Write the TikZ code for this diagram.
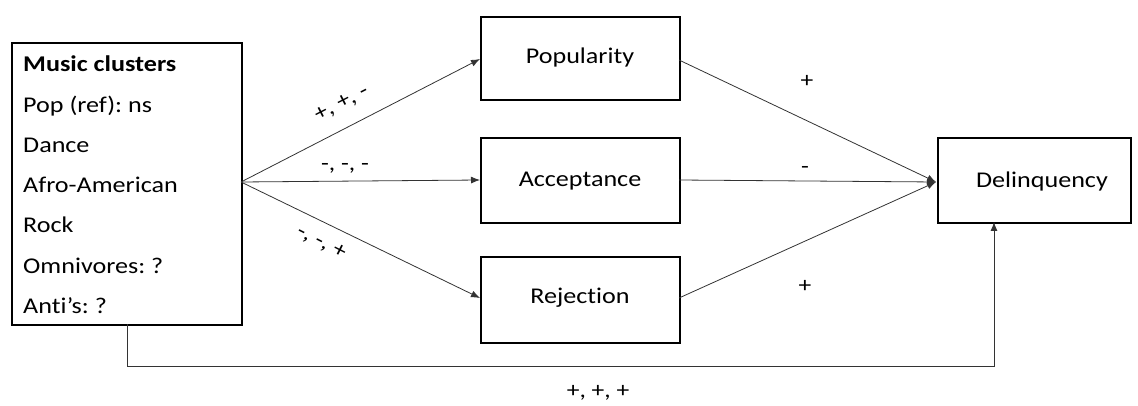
\documentclass[tikz,border=0pt]{standalone}
\usepackage{fontspec}
\setmainfont{Carlito}[FakeStretch=1.16, Ligatures=NoCommon]
\usetikzlibrary{arrows.meta}
\begin{document}
\frenchspacing
\begin{tikzpicture}[x=1pt,y=-1pt,
  box/.style={draw=black, line width=1.6pt, inner sep=0pt},
  txt/.style={font=\fontsize{22.5}{26}\selectfont, inner sep=0pt},
  lbl/.style={font=\fontsize{22}{24}\selectfont, inner sep=0pt},
  conn/.style={draw=black!80, line width=0.8pt, -{Latex[length=9pt,width=7pt]}}]
\useasboundingbox (0,0) rectangle (1138,406);
% boxes
\node[box, minimum width=230, minimum height=282, anchor=north west] (music) at (11,42) {};
\node[box, minimum width=199, minimum height=83, anchor=north west] (pop) at (480,16) {};
\node[box, minimum width=199, minimum height=85, anchor=north west] (acc) at (480,137) {};
\node[box, minimum width=199, minimum height=86, anchor=north west] (rej) at (480,256) {};
\node[box, minimum width=193, minimum height=85, anchor=north west] (del) at (937,137) {};
% texts
\node[txt, anchor=base west] (t0) at (23,72) {\textbf{Music clusters}};
\node[txt, anchor=base west] (t1) at (23,113) {Pop (ref): ns};
\node[txt, anchor=base west] (t2) at (23,153) {Dance};
\node[txt, anchor=base west] (t3) at (23,193) {Afro-American};
\node[txt, anchor=base west] (t4) at (23,233) {Rock};
\node[txt, anchor=base west] (t5) at (23,273) {Omnivores: ?};
\node[txt, anchor=base west] (t6) at (23,313) {Anti’s: ?};
\node[txt] (tp) at (580,58) {Popularity};
\node[txt] (ta) at (580,181) {Acceptance};
\node[txt] (tr) at (580,298) {Rejection};
\node[txt] (td) at (1042,182) {Delinquency};
% coordinates
\coordinate (src) at (241,182);
\coordinate (popin) at (480,59);
\coordinate (accin) at (480,180);
\coordinate (rejin) at (480,298);
\coordinate (popout) at (679,60);
\coordinate (accout) at (679,180);
\coordinate (rejout) at (679,298);
\coordinate (delin) at (936,182);
\coordinate (fb1) at (127,324);
\coordinate (fb2) at (127,366);
\coordinate (fb3) at (994,366);
\coordinate (fb4) at (994,222);
% connectors
\draw[conn] (src) -- (popin);
\draw[conn] (src) -- (accin);
\draw[conn] (src) -- (rejin);
\draw[conn] (popout) -- (delin);
\draw[conn] (accout) -- (delin);
\draw[conn] (rejout) -- (delin);
\draw[conn] (fb1) -- (fb2) -- (fb3) -- (fb4);
% labels
\node[lbl, rotate=27] (l1) at (342,104) {+, +, -};
\node[lbl] (l2) at (345,168) {-, -, -};
\node[lbl, rotate=-27] (l3) at (321,243) {-, -, +};
\node[lbl] (l4) at (807,81) {+};
\node[lbl] (l5) at (805,170) {-};
\node[lbl] (l6) at (805,286) {+};
\node[lbl] (l7) at (598,393) {+, +, +};
\end{tikzpicture}
\end{document}
